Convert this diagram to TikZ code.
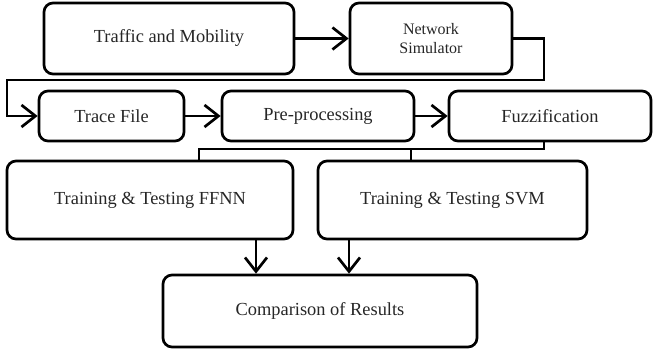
\documentclass[tikz,border=0pt]{standalone}
\usepackage{fontspec}
\setmainfont{Liberation Serif}
\usetikzlibrary{arrows.meta}

\begin{document}
\begin{tikzpicture}[x=1pt, y=-1pt,
        blockstyle/.style={rectangle, draw, rounded corners=9pt, line width=2.7pt, text=black!85,
            font=\fontsize{18.4}{21}\selectfont, align=center, inner sep=0pt},
        linkstyle/.style={line width=2.7pt},
        arrowstyle/.style={linkstyle, -{Straight Barb[length=14pt, width=22pt, line width=2.7pt]}}]
            \useasboundingbox (0,0) rectangle (654,349);

            % first row
            \node[blockstyle, minimum width=250pt, minimum height=71pt] (traffic) at (169,38.5) {Traffic and Mobility};
            \node[blockstyle, minimum width=162pt, minimum height=71pt, font=\fontsize{16}{19}\selectfont] (netsim) at (431,38.5) {Network\\Simulator};

            % second row
            \node[blockstyle, minimum width=145pt, minimum height=50pt] (trace) at (111.5,116) {Trace File};
            \node[blockstyle, minimum width=192pt, minimum height=50pt] (preproc) at (318,116) {Pre-processing};
            \node[blockstyle, minimum width=202pt, minimum height=50pt] (fuzzy) at (550,116) {Fuzzification};

            % training and result
            \node[blockstyle, minimum width=286pt, minimum height=78pt] (ffnn) at (150,200) {Training \& Testing FFNN};
            \node[blockstyle, minimum width=269pt, minimum height=78pt] (svm) at (452.5,200) {Training \& Testing SVM};
            \node[blockstyle, minimum width=314pt, minimum height=72pt] (result) at (320,311) {Comparison of Results};

            \coordinate (loopr) at (544,80);
            \coordinate (loopl) at (7,80);
            \coordinate (busr) at (544,149);
            \coordinate (busl) at (199,149);
            \coordinate (busm) at (411,149);
            \coordinate (downa) at (256,0);
            \coordinate (downb) at (349,0);

            \draw[arrowstyle] (traffic.east) -- (netsim.west);
            \draw[arrowstyle] (netsim.east) -| (loopr) -- (loopl) |- (trace.west);
            \draw[arrowstyle] (trace.east) -- (preproc.west);
            \draw[arrowstyle] (preproc.east) -- (fuzzy.west);

            \draw[linkstyle] (fuzzy.south -| busr) -- (busr) -- (busl) -- (ffnn.north -| busl);
            \draw[linkstyle] (busm) -- (svm.north -| busm);

            \draw[arrowstyle] (ffnn.south -| downa) -- (result.north -| downa);
            \draw[arrowstyle] (svm.south -| downb) -- (result.north -| downb);
        \end{tikzpicture}
\end{document}
